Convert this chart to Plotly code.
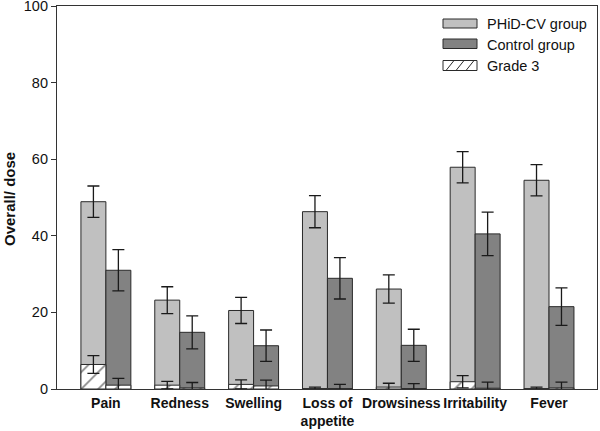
import plotly.graph_objects as go

categories = ["Pain", "Redness", "Swelling", "Loss of<br>appetite", "Drowsiness", "Irritability", "Fever"]

phid_overall = [48.9, 23.2, 20.5, 46.3, 26.1, 57.9, 54.5]
phid_overall_err = [4.1, 3.5, 3.4, 4.2, 3.7, 4.1, 4.1]
control_overall = [31.0, 14.8, 11.3, 28.9, 11.4, 40.5, 21.5]
control_overall_err = [5.4, 4.3, 4.1, 5.4, 4.2, 5.7, 4.9]

phid_grade3 = [6.4, 1.0, 1.2, 0.1, 0.5, 1.9, 0.1]
phid_grade3_err = [2.3, 1.0, 1.2, 0.4, 1.0, 1.6, 0.4]
control_grade3 = [1.0, 0.3, 0.8, 0.1, 0.1, 0.2, 0.3]
control_grade3_err = [1.8, 1.4, 1.5, 1.1, 1.3, 1.6, 1.5]

y_ticks = [0, 20, 40, 60, 80, 100]

LIGHT = "#c0c0c0"
DARK = "#828282"
EDGE = "#2a2a2a"
W = 0.338
FONT = "Liberation Sans, Arial"

x = list(range(len(categories)))

def err(arr):
    return dict(type="data", array=arr, visible=True, color="#1a1a1a", thickness=1.3, width=6)

fig = go.Figure()
fig.add_trace(go.Bar(x=x, y=phid_overall, width=W, offset=-W, name="PHiD-CV group",
                     marker=dict(color=LIGHT, line=dict(color=EDGE, width=1)),
                     error_y=err(phid_overall_err), showlegend=False))
fig.add_trace(go.Bar(x=x, y=control_overall, width=W, offset=0, name="Control group",
                     marker=dict(color=DARK, line=dict(color=EDGE, width=1)),
                     error_y=err(control_overall_err), showlegend=False))
pat = dict(shape="/", fgcolor="#111111", bgcolor="white", size=12, solidity=0.14)
fig.add_trace(go.Bar(x=x, y=phid_grade3, width=W, offset=-W, name="Grade 3",
                     marker=dict(color="white", pattern=pat, line=dict(color=EDGE, width=1)),
                     error_y=err(phid_grade3_err), showlegend=False))
fig.add_trace(go.Bar(x=x, y=control_grade3, width=W, offset=0, name="Grade 3 (control)",
                     marker=dict(color="white", pattern=pat, line=dict(color=EDGE, width=1)),
                     error_y=err(control_grade3_err), showlegend=False))

# plot area in pixels
L, R, T, B = 57, 597, 6, 389
def px(v):
    return (v - L) / (R - L)
def py(v):
    return (B - v) / (B - T)

shapes = []
annotations = []
legend_items = [("PHiD-CV group", LIGHT, 19, 28, 24.5),
                ("Control group", DARK, 39, 48.5, 44.5),
                ("Grade 3", "white", 60.5, 70.5, 66)]
for label, col, y0, y1, yt in legend_items:
    shapes.append(dict(type="rect", xref="paper", yref="paper",
                       x0=px(443), x1=px(477), y0=py(y1), y1=py(y0),
                       fillcolor=col, line=dict(color=EDGE, width=1)))
    annotations.append(dict(text=label, xref="paper", yref="paper", x=px(485), y=py(yt),
                            xanchor="left", yanchor="middle", showarrow=False,
                            font=dict(family=FONT, size=14.5, color="#111")))
# hatch in Grade 3 legend box
for xs in (446, 456, 466):
    shapes.append(dict(type="line", xref="paper", yref="paper",
                       x0=px(xs), y0=py(70.5), x1=px(xs + 8), y1=py(60.5),
                       line=dict(color=EDGE, width=1)))

# y-axis title
annotations.append(dict(text="<b>Overall/ dose</b>", xref="paper", yref="paper",
                        x=px(9), y=py(199), xanchor="center", yanchor="middle",
                        textangle=-90, showarrow=False,
                        font=dict(family=FONT, size=15, color="#111")))

fig.update_layout(
    width=600, height=431,
    margin=dict(l=L, r=600 - R, t=T, b=431 - B, autoexpand=False),
    paper_bgcolor="white", plot_bgcolor="white",
    barmode="overlay",
    showlegend=False,
    shapes=shapes, annotations=annotations,
    font=dict(family=FONT, color="#111"),
)
fig.update_xaxes(range=[-0.662, 6.65], tickvals=x,
                 ticktext=["<b>%s</b>" % c.replace("<br>", "</b><br><b>") for c in categories],
                 tickfont=dict(size=14), showline=True, linecolor="#333", linewidth=1.2, mirror=True,
                 ticks="", showgrid=False, zeroline=False, automargin=False,
                 ticklabelstandoff=1)
fig.update_yaxes(range=[0, 100], tickvals=y_ticks, tickfont=dict(size=14.5),
                 showline=True, linecolor="#333", linewidth=1.2, mirror=True,
                 ticks="outside", ticklen=5, tickcolor="#333", showgrid=False, zeroline=False,
                 automargin=False, ticklabeloverflow="allow")
fig.write_html("out.html", config={"displayModeBar": False},
               post_script="document.body.style.margin='0';document.body.style.overflow='hidden';")
